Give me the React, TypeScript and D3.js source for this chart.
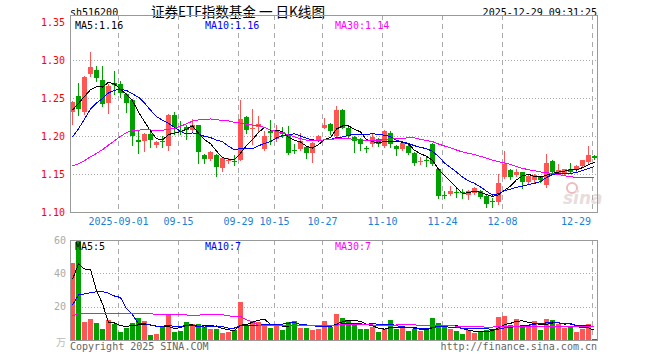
import React from "react";
import * as d3 from "d3";

// ---- data ----
const tickIndex = [8, 18, 28, 34, 42, 52, 62, 72, 87];
const tickLabels = ["2025-09-01", "09-15", "09-29", "10-15", "10-27", "11-10", "11-24", "12-08", "12-29"];
const priceTicks = [1.35, 1.3, 1.25, 1.2, 1.15, 1.1];
const volTicks = [60, 40, 20];

const opens = [1.232,1.253,1.232,1.281,1.287,1.274,1.244,1.270,1.269,1.255,1.248,1.195,1.193,1.203,1.188,1.193,1.187,1.228,1.207,1.212,1.208,1.214,1.175,1.170,1.175,1.158,1.167,1.167,1.169,1.225,1.210,1.212,1.183,1.206,1.196,1.205,1.200,1.182,1.183,1.185,1.178,1.194,1.211,1.216,1.200,1.234,1.211,1.199,1.196,1.184,1.189,1.196,1.187,1.204,1.187,1.183,1.187,1.178,1.166,1.168,1.190,1.157,1.123,1.124,1.126,1.126,1.123,1.125,1.128,1.121,1.114,1.113,1.146,1.155,1.149,1.152,1.139,1.142,1.146,1.135,1.167,1.151,1.151,1.157,1.155,1.160,1.166,1.174];
const closes = [1.245,1.235,1.278,1.291,1.276,1.242,1.266,1.267,1.256,1.243,1.200,1.192,1.203,1.195,1.192,1.192,1.228,1.212,1.205,1.208,1.214,1.179,1.170,1.179,1.159,1.171,1.169,1.166,1.222,1.208,1.211,1.216,1.200,1.204,1.207,1.202,1.178,1.181,1.193,1.178,1.191,1.200,1.214,1.207,1.234,1.211,1.200,1.193,1.189,1.183,1.199,1.189,1.206,1.190,1.183,1.191,1.178,1.164,1.167,1.167,1.163,1.121,1.122,1.128,1.125,1.125,1.128,1.131,1.120,1.110,1.113,1.138,1.163,1.146,1.152,1.139,1.148,1.149,1.142,1.164,1.152,1.155,1.156,1.152,1.161,1.168,1.175,1.171];
const highs = [1.246,1.270,1.279,1.310,1.292,1.292,1.268,1.285,1.272,1.257,1.249,1.207,1.204,1.207,1.193,1.200,1.229,1.231,1.220,1.214,1.222,1.215,1.176,1.180,1.176,1.172,1.171,1.175,1.248,1.226,1.236,1.226,1.207,1.221,1.214,1.212,1.213,1.189,1.204,1.186,1.192,1.201,1.224,1.217,1.239,1.235,1.213,1.200,1.197,1.187,1.204,1.198,1.208,1.206,1.188,1.193,1.188,1.179,1.173,1.173,1.191,1.158,1.127,1.134,1.130,1.130,1.129,1.133,1.129,1.122,1.119,1.150,1.180,1.157,1.156,1.153,1.150,1.150,1.147,1.176,1.168,1.163,1.157,1.164,1.162,1.169,1.187,1.175];
const lows = [1.216,1.228,1.229,1.279,1.272,1.240,1.230,1.255,1.251,1.232,1.188,1.177,1.180,1.186,1.186,1.186,1.182,1.202,1.202,1.196,1.206,1.165,1.164,1.169,1.147,1.154,1.164,1.162,1.168,1.204,1.189,1.206,1.182,1.190,1.194,1.199,1.176,1.178,1.182,1.171,1.166,1.193,1.210,1.202,1.199,1.210,1.197,1.179,1.182,1.179,1.187,1.187,1.185,1.186,1.175,1.181,1.176,1.162,1.163,1.160,1.162,1.119,1.118,1.123,1.120,1.118,1.117,1.124,1.119,1.107,1.107,1.111,1.145,1.143,1.148,1.132,1.137,1.140,1.140,1.133,1.151,1.150,1.150,1.151,1.154,1.159,1.165,1.170];
const volumes = [46,68,11,12.6,10.4,6.6,12,9.4,5,7.4,10,13.4,11.6,3,3.6,8,14.8,5,5.6,10.8,9.6,9.4,8,6.6,6.4,4.4,5,6,22.8,8.4,11,10.8,9.6,7.4,8.2,6,10.8,11.6,7.4,7.4,6.2,6.8,11.6,7.6,15.6,13.2,11.2,10,6.6,6.6,7.8,4.8,6.6,12,6.6,7.8,5.4,6.8,5.4,5.8,13.2,10.2,8,6.6,5.4,3.6,6,4.4,5.4,6,6.6,13.8,14.4,9,12.6,7.6,9,11.4,6,12.6,12,9.6,7.4,7.8,4.8,6.6,9.6,0.6];

// earlier sessions (before the visible window), needed for the moving averages
const priorCloses = [1.150,1.148,1.142,1.140,1.095,1.088,1.090,1.087,1.098,1.102,1.185,1.196,1.200,1.203,1.190,1.186,1.182,1.118,1.112,1.112,1.130,1.150,1.160,1.195,1.185,1.190,1.233,1.246,1.256];
const priorVolumes = [20,11,12.6,10.4,6.6,12,9.4,5,7.4,10,13.4,12,11,13,10,12,11,12,11,12,8,5,5,5,5,22,26,14,74];

const priceMaLabels = [
  { text: "MA5:1.16", color: "#000000", x: 75 },
  { text: "MA10:1.16", color: "#0000ff", x: 205 },
  { text: "MA30:1.14", color: "#ff00ff", x: 335 },
];
const volMaLabels = [
  { text: "MA5:5", color: "#000000", x: 75 },
  { text: "MA10:7", color: "#0000ff", x: 205 },
  { text: "MA30:7", color: "#ff00ff", x: 335 },
];

const UP = "#ff5555";
const DOWN = "#00a000";
const MONO = "'DejaVu Sans Mono', 'Liberation Mono', monospace";

function movingAverage(prior: number[], shown: number[], n: number): number[] {
  const all = prior.concat(shown);
  const off = prior.length;
  return shown.map((_, i) => {
    const slice = all.slice(off + i - n + 1, off + i + 1);
    return d3.mean(slice) as number;
  });
}

export default function App() {
  const W = 660, H = 360;
  const left = 70, right = 597;
  const mainTop = 15, mainBottom = 212;
  const volTop = 240, volBottom = 340;
  const n = closes.length;

  const x = d3.scaleLinear().domain([0, n]).range([left, left + 6 * n]);
  const y = d3.scaleLinear().domain([1.1, 1.35]).range([mainBottom, 22]);
  const yv = d3.scaleLinear().domain([0, 60]).range([volBottom, volTop]);

  const cx = (i: number) => Math.round(x(i)) + 2.5;

  const maSpecs = [
    { n: 5, color: "#000000" },
    { n: 10, color: "#0000ff" },
    { n: 30, color: "#ff00ff" },
  ];

  const priceLine = d3.line<number>().x((_, i) => cx(i)).y((d) => y(d));
  const volLine = d3.line<number>().x((_, i) => cx(i)).y((d) => yv(d));

  const grid = "#aaaaaa";

  return (
    <svg width={W} height={H} style={{ position: "absolute", left: 0, top: 0, background: "#fff" }} fontFamily={MONO}>
      <defs>
        <clipPath id="mainClip"><rect x={left} y={mainTop} width={right - left} height={mainBottom - mainTop} /></clipPath>
        <clipPath id="volClip"><rect x={left} y={volTop} width={right - left} height={volBottom - volTop} /></clipPath>
      </defs>
      <rect x={0} y={0} width={W} height={H} fill="#fff" />

      {/* header */}
      <text x={70} y={16} fontSize={10} fill="#000">sh516200</text>
      <text x={151} y={17} fontSize={14} fontFamily="'Noto Sans CJK SC', sans-serif" fill="#000" textLength={174} lengthAdjust="spacingAndGlyphs">证券ETF指数基金 一 日K线图</text>
      <text x={597} y={16} fontSize={10} fill="#000" textAnchor="end">2025-12-29 09:31:25</text>

      {/* main grid */}
      {priceTicks.filter((t) => t > 1.1 && t < 1.35).map((t) => (
        <line key={"hg" + t} x1={left} x2={right} y1={Math.round(y(t)) + 0.5} y2={Math.round(y(t)) + 0.5} stroke={grid} strokeDasharray="1,2" shapeRendering="crispEdges" />
      ))}
      {tickIndex.map((ti) => (
        <g key={"vg" + ti}>
          <line x1={Math.round(x(ti)) + 0.5} x2={Math.round(x(ti)) + 0.5} y1={mainTop} y2={mainBottom} stroke={grid} strokeDasharray="5,4" shapeRendering="crispEdges" />
          <line x1={Math.round(x(ti)) + 0.5} x2={Math.round(x(ti)) + 0.5} y1={volTop} y2={volBottom} stroke={grid} strokeDasharray="5,4" shapeRendering="crispEdges" />
        </g>
      ))}
      {volTicks.filter((t) => t < 60).map((t) => (
        <line key={"vhg" + t} x1={left} x2={right} y1={Math.round(yv(t)) + 0.5} y2={Math.round(yv(t)) + 0.5} stroke={grid} strokeDasharray="1,2" shapeRendering="crispEdges" />
      ))}

      {/* price labels */}
      {priceTicks.map((t) => (
        <text key={"pl" + t} x={65} y={y(t) + 3.5} fontSize={10} fill="#ff0000" textAnchor="end">{t.toFixed(2)}</text>
      ))}
      {volTicks.map((t) => (
        <text key={"vl" + t} x={66} y={yv(t) + 3.5} fontSize={10} fill="#aaaaaa" textAnchor="end">{t}</text>
      ))}
      <text x={66} y={346} fontSize={10} fill="#bbbbbb" textAnchor="end" fontFamily="'Noto Sans CJK SC', sans-serif">万</text>

      {/* watermark */}
      <g opacity={0.35}>
        <circle cx={572} cy={188} r={5} fill="none" stroke="#d04040" strokeWidth={2} />
        <text x={563} y={204} fontSize={17} fontWeight="bold" fontStyle="italic" fontFamily="'DejaVu Sans', sans-serif" fill="#c0a0a0">sina</text>
      </g>

      {/* candles */}
      <g clipPath="url(#mainClip)" shapeRendering="crispEdges">
        {closes.map((c, i) => {
          const o = opens[i];
          const up = c >= o && !(c === o);
          const col = c > o ? UP : DOWN;
          const xl = Math.round(x(i));
          const yTop = Math.round(y(Math.max(o, c)));
          const yBot = Math.round(y(Math.min(o, c)));
          return (
            <g key={"c" + i}>
              <line x1={xl + 2.5} x2={xl + 2.5} y1={Math.round(y(highs[i]))} y2={Math.round(y(lows[i])) + 1} stroke={col} />
              <rect x={xl} y={yTop} width={5} height={Math.max(1, yBot - yTop)} fill={col} data-up={up ? 1 : 0} />
            </g>
          );
        })}
        {maSpecs.map((m) => (
          <path key={"pm" + m.n} d={priceLine(movingAverage(priorCloses, closes, m.n)) || ""} fill="none" stroke={m.color} strokeWidth={1} />
        ))}
      </g>

      {/* volume */}
      <g clipPath="url(#volClip)" shapeRendering="crispEdges">
        {volumes.map((v, i) => {
          const col = closes[i] > opens[i] ? UP : DOWN;
          const xl = Math.round(x(i));
          const yt = Math.round(yv(v));
          return <rect key={"v" + i} x={xl} y={yt} width={5} height={volBottom - yt} fill={col} />;
        })}
        {maSpecs.map((m) => (
          <path key={"vm" + m.n} d={volLine(movingAverage(priorVolumes, volumes, m.n)) || ""} fill="none" stroke={m.color} strokeWidth={1} />
        ))}
      </g>

      {/* frames */}
      <rect x={left + 0.5} y={mainTop + 0.5} width={right - left} height={mainBottom - mainTop} fill="none" stroke="#999999" shapeRendering="crispEdges" />
      <rect x={left + 0.5} y={volTop + 0.5} width={right - left} height={volBottom - volTop} fill="none" stroke="#999999" shapeRendering="crispEdges" />

      {/* MA labels */}
      {priceMaLabels.map((l) => (
        <text key={l.text} x={l.x} y={29} fontSize={10} fill={l.color}>{l.text}</text>
      ))}
      {volMaLabels.map((l) => (
        <text key={l.text} x={l.x} y={250} fontSize={10} fill={l.color}>{l.text}</text>
      ))}

      {/* date labels */}
      {tickIndex.map((ti, k) => {
        const label = tickLabels[k];
        const w = label.length * 6;
        let c = Math.round(x(ti)) + 0.5;
        if (c + w / 2 > 591) c = 591 - w / 2;
        return (
          <text key={"dl" + ti} x={c} y={225} fontSize={10} fill="#1a7fd6" textAnchor="middle">{label}</text>
        );
      })}

      {/* footer */}
      <text x={70} y={350} fontSize={10} fill="#666666">Copyright 2025 SINA.COM</text>
      <text x={597} y={350} fontSize={10} fill="#666666" textAnchor="end">http://finance.sina.com.cn</text>
    </svg>
  );
}
